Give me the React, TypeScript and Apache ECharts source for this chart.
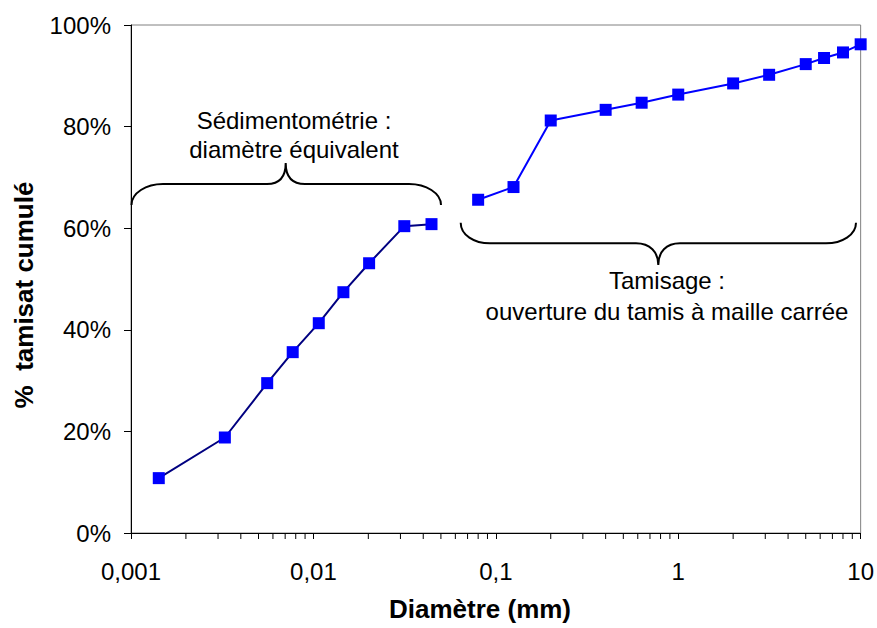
import React, { useEffect, useRef } from "react";
import * as echarts from "echarts";

// Sedimentometry (equivalent diameter, mm) and cumulative passing (%)
const sedDiameters = [0.00142, 0.00327, 0.00558, 0.0077, 0.0107, 0.0146, 0.0202, 0.0315, 0.0444];
const sedPassing = [10.8, 18.8, 29.5, 35.6, 41.3, 47.4, 53.1, 60.4, 60.8];

// Sieving (square mesh opening, mm) and cumulative passing (%)
const sieveDiameters = [0.08, 0.125, 0.2, 0.4, 0.63, 1, 2, 3.15, 5, 6.3, 8, 10];
const sievePassing = [65.6, 68.1, 81.2, 83.3, 84.7, 86.3, 88.5, 90.2, 92.3, 93.5, 94.6, 96.2];

const xTickLabels = ["0,001", "0,01", "0,1", "1", "10"];
const yTickLabels = ["0%", "20%", "40%", "60%", "80%", "100%"];
const minorTickValues: number[] = [];
[0.001, 0.01, 0.1, 1].forEach((d) => {
  for (let k = 2; k <= 9; k++) minorTickValues.push(+(d * k).toPrecision(3));
});

const braceLeft =
  "M131.5,205 C131.5,193 146,184 163,184 L267,184 C280,184 285.7,176 285.7,163 C285.7,176 291,184 305,184 L409,184 C426,184 441,193 441,205";
const braceRight =
  "M460.7,222.7 C460.7,235 474,243.3 490,243.3 L636,243.3 C650,243.3 658.3,252 658.3,265 C658.3,252 666,243.3 680,243.3 L826,243.3 C842,243.3 856,235 856,222.7";

echarts.graphic.registerShape("braceLeft", echarts.graphic.extendPath(braceLeft, {}));
echarts.graphic.registerShape("braceRight", echarts.graphic.extendPath(braceRight, {}));

const FONT = "'Liberation Sans', Arial, sans-serif";

export default function App() {
  const ref = useRef<HTMLDivElement>(null);
  useEffect(() => {
    if (!ref.current) return;
    const chart = echarts.init(ref.current, undefined, { renderer: "svg" });
    chart.setOption({
      animation: false,
      backgroundColor: "#fff",
      textStyle: { fontFamily: FONT },
      grid: {
        left: 131,
        top: 25,
        right: 16,
        bottom: 95,
        show: true,
        borderColor: "#808080",
        borderWidth: 1,
      },
      xAxis: {
        type: "log",
        logBase: 10,
        min: 0.001,
        max: 10,
        splitNumber: 4,
        axisLine: { show: true, lineStyle: { color: "#000", width: 1 } },
        axisTick: { show: true, inside: false, length: 6, lineStyle: { color: "#000" } },
        splitLine: { show: false },
        axisLabel: {
          margin: 26,
          color: "#000",
          fontSize: 24,
          fontFamily: FONT,
          formatter: (v: number) => xTickLabels[Math.round(Math.log10(v)) + 3] ?? "",
        },
      },
      yAxis: {
        type: "value",
        min: 0,
        max: 100,
        interval: 20,
        axisLine: { show: true, lineStyle: { color: "#000", width: 1 } },
        axisTick: { show: true, inside: false, length: 7, lineStyle: { color: "#000" } },
        splitLine: { show: false },
        axisLabel: {
          margin: 20,
          color: "#000",
          fontSize: 24,
          fontFamily: FONT,
          formatter: (v: number) => yTickLabels[Math.round(v / 20)] ?? "",
        },
      },
      series: [
        {
          type: "custom",
          clip: false,
          silent: true,
          data: minorTickValues.map((v) => [v, 0]),
          renderItem: (params: any, api: any) => {
            const p = api.coord([api.value(0), 0]);
            return {
              type: "line",
              shape: { x1: p[0], y1: p[1], x2: p[0], y2: p[1] + 6 },
              style: { stroke: "#000", lineWidth: 1 },
            };
          },
          z: 5,
        },
        {
          name: "Sédimentométrie",
          type: "line",
          data: sedDiameters.map((d, i) => [d, sedPassing[i]]),
          symbol: "rect",
          symbolSize: 12,
          lineStyle: { color: "#000080", width: 2 },
          itemStyle: { color: "#0000FF" },
          z: 3,
        },
        {
          name: "Tamisage",
          type: "line",
          data: sieveDiameters.map((d, i) => [d, sievePassing[i]]),
          symbol: "rect",
          symbolSize: 12,
          lineStyle: { color: "#0000FF", width: 2 },
          itemStyle: { color: "#0000FF" },
          z: 3,
          clip: false,
        },
      ],
      graphic: [
        { type: "braceLeft", x: 0, y: 0, style: { fill: null, stroke: "#000", lineWidth: 2 } },
        { type: "braceRight", x: 0, y: 0, style: { fill: null, stroke: "#000", lineWidth: 2 } },
        {
          type: "text",
          x: 294,
          y: 120,
          style: { text: "Sédimentométrie :", font: `24px ${FONT}`, fill: "#000", align: "center", verticalAlign: "middle" },
        },
        {
          type: "text",
          x: 294,
          y: 149,
          style: { text: "diamètre équivalent", font: `24px ${FONT}`, fill: "#000", align: "center", verticalAlign: "middle" },
        },
        {
          type: "text",
          x: 667,
          y: 280,
          style: { text: "Tamisage :", font: `24px ${FONT}`, fill: "#000", align: "center", verticalAlign: "middle" },
        },
        {
          type: "text",
          x: 667,
          y: 311,
          style: { text: "ouverture du tamis à maille carrée", font: `24px ${FONT}`, fill: "#000", align: "center", verticalAlign: "middle" },
        },
        {
          type: "text",
          x: 480,
          y: 609,
          style: { text: "Diamètre (mm)", font: `bold 26px ${FONT}`, fill: "#000", align: "center", verticalAlign: "middle" },
        },
        {
          type: "text",
          x: 24,
          y: 295,
          rotation: Math.PI / 2,
          style: { text: "%  tamisat cumulé", font: `bold 26px ${FONT}`, fill: "#000", align: "center", verticalAlign: "middle" },
        },
      ],
    });
    return () => chart.dispose();
  }, []);
  return <div ref={ref} style={{ width: 877, height: 628, position: "absolute", left: 0, top: 0 }} />;
}
